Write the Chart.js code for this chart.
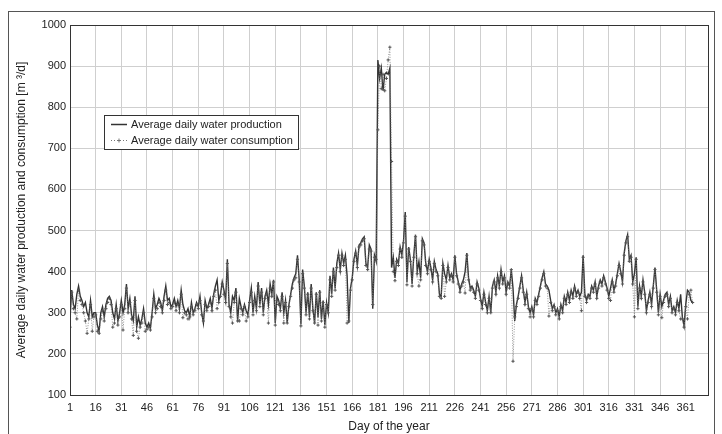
<!DOCTYPE html>
<html>
<head>
<meta charset="utf-8">
<script src="https://cdn.jsdelivr.net/npm/chart.js@4/dist/chart.umd.min.js"></script>
<style>
  body { margin: 0; background: #fff; overflow: hidden; }
  #frame { position: absolute; left: 8px; top: 11px; width: 705px; height: 440px; border: 1px solid #555; }
  #wrap { position: absolute; left: 0; top: 0; width: 722px; height: 434px; }
</style>
</head>
<body>
<div id="frame"></div>
<div id="wrap"><canvas id="grafico" width="722" height="434"></canvas></div>
<script>
// tick labels of the x axis (day of the year)
const xTicks = [1, 16, 31, 46, 61, 76, 91, 106, 121, 136, 151, 166, 181, 196, 211, 226, 241, 256, 271, 286, 301, 316, 331, 346, 361];
const yTicks = [100, 200, 300, 400, 500, 600, 700, 800, 900, 1000];

const seriesNames = ['Average daily water production', 'Average daily water consumption'];

// average daily water production, day 1..365, rows of 15 days
const production = [
  290, 355, 320, 310, 345, 365, 340, 330, 315, 325, 300, 290, 330, 290, 300,
  300, 270, 255, 300, 315, 290, 320, 335, 340, 330, 300, 285, 320, 280, 300,
  330, 300, 320, 370, 310, 335, 295, 280, 340, 265, 290, 270, 285, 310, 275,
  265, 275, 262, 300, 345, 310, 320, 335, 325, 305, 340, 365, 330, 335, 315,
  320, 335, 315, 330, 310, 355, 320, 305, 300, 310, 290, 325, 300, 310, 325,
  315, 340, 300, 275, 330, 310, 320, 335, 310, 345, 365, 380, 330, 345, 375,
  355, 330, 430, 320, 300, 340, 330, 360, 280, 335, 315, 300, 320, 305, 295,
  330, 360, 300, 340, 310, 375, 320, 360, 300, 340, 355, 320, 370, 345, 380,
  275, 340, 330, 310, 350, 300, 330, 275, 320, 345, 370, 385, 395, 440, 380,
  272, 405, 365, 300, 350, 290, 370, 310, 275, 350, 290, 355, 285, 330, 270,
  325, 300, 390, 345, 410, 360, 420, 445, 405, 445, 420, 440, 390, 275, 360,
  385, 430, 450, 415, 465, 470, 480, 485, 420, 410, 465, 455, 310, 440, 425,
  915, 870, 895, 840, 880, 885, 880, 895, 410, 435, 385, 430, 420, 460, 440,
  475, 545, 375, 460, 430, 370, 440, 490, 400, 425, 385, 480, 470, 420, 400,
  430, 410, 380, 425, 405, 395, 345, 340, 420, 395, 380, 415, 385, 395, 380,
  440, 395, 375, 355, 370, 380, 400, 445, 385, 360, 365, 355, 340, 375, 360,
  335, 315, 350, 325, 305, 340, 300, 365, 380, 350, 390, 365, 405, 375, 390,
  350, 375, 365, 405, 360, 280, 320, 340, 365, 390, 355, 325, 350, 315, 300,
  315, 295, 335, 325, 345, 365, 385, 400, 370, 365, 355, 330, 310, 320, 300,
  310, 290, 320, 305, 340, 325, 350, 330, 355, 340, 365, 345, 355, 340, 350,
  440, 345, 330, 345, 340, 365, 355, 375, 340, 365, 380, 370, 390, 375, 360,
  340, 360, 380, 355, 370, 395, 420, 400, 375, 445, 475, 490, 430, 440, 375,
  395, 435, 315, 365, 340, 380, 350, 305, 330, 350, 320, 365, 410, 355, 300,
  345, 315, 330, 345, 350, 320, 340, 305, 315, 300, 330, 310, 345, 290, 268,
  320, 355, 350, 330, 325
];

// average daily water consumption, day 1..365
const consumption = [
  265, 350, 310, 300, 285, 355, 330, 320, 300, 280, 250, 285, 320, 255, 290,
  295, 255, 250, 285, 305, 280, 310, 325, 335, 320, 265, 275, 310, 270, 290,
  320, 258, 310, 360, 300, 325, 285, 245, 330, 255, 238, 265, 275, 300, 255,
  260, 265, 258, 290, 335, 300, 310, 325, 315, 300, 330, 355, 320, 325, 310,
  315, 325, 305, 320, 300, 345, 288, 300, 295, 285, 290, 315, 295, 305, 320,
  310, 330, 295, 280, 320, 305, 315, 325, 305, 340, 355, 310, 325, 340, 370,
  345, 325, 420, 315, 290, 275, 325, 350, 280, 280, 310, 295, 315, 280, 290,
  325, 350, 295, 330, 305, 365, 315, 350, 295, 335, 345, 275, 360, 340, 375,
  270, 330, 320, 305, 340, 275, 325, 275, 315, 340, 360, 380, 385, 430, 375,
  268, 395, 360, 295, 345, 285, 360, 305, 275, 345, 270, 350, 280, 325, 265,
  320, 300, 380, 340, 400, 355, 410, 440, 400, 440, 415, 430, 275, 280, 355,
  380, 425, 445, 410, 460, 465, 475, 480, 415, 405, 455, 450, 320, 435, 430,
  745, 900, 845, 880, 840, 870, 915, 946, 668, 400, 378, 425, 415, 455, 435,
  470, 535, 368, 455, 425, 365, 435, 485, 395, 365, 380, 475, 465, 415, 395,
  425, 405, 375, 420, 400, 390, 340, 335, 415, 340, 375, 410, 380, 390, 375,
  435, 390, 370, 350, 365, 375, 348, 440, 380, 355, 360, 350, 335, 370, 355,
  330, 310, 345, 320, 300, 335, 300, 360, 375, 345, 385, 360, 400, 370, 385,
  345, 370, 360, 405, 182, 290, 315, 335, 360, 385, 350, 320, 345, 310, 290,
  310, 290, 330, 320, 340, 360, 380, 395, 365, 360, 292, 325, 305, 315, 295,
  305, 285, 315, 300, 335, 320, 345, 325, 350, 335, 360, 340, 350, 335, 305,
  435, 340, 325, 340, 335, 360, 350, 370, 335, 360, 375, 365, 385, 370, 355,
  335, 330, 375, 350, 365, 390, 415, 395, 370, 440, 470, 485, 425, 435, 370,
  290, 430, 310, 360, 335, 375, 345, 300, 325, 345, 315, 360, 405, 350, 295,
  340, 288, 325, 340, 345, 315, 335, 300, 310, 295, 325, 305, 285, 285, 265,
  315, 285, 345, 355, 325
];

const fuente = "'Liberation Sans', Arial, sans-serif";

function aPuntos(valores) {
  return valores.map((v, i) => ({ x: i + 1, y: v }));
}

// legend box inside the plot + frame around the plot area
const leyendaPlugin = {
  id: 'leyenda',
  afterDraw(chart) {
    const ctx = chart.ctx;
    const a = chart.chartArea;
    ctx.save();
    ctx.strokeStyle = '#333';
    ctx.lineWidth = 1;
    ctx.strokeRect(Math.round(a.left) + 0.5, Math.round(a.top) + 0.5, Math.round(a.right - a.left), Math.round(a.bottom - a.top));

    const bx = 104.5, by = 115.5, bw = 194, bh = 34;
    ctx.fillStyle = '#fff';
    ctx.fillRect(bx, by, bw, bh);
    ctx.strokeStyle = '#333';
    ctx.strokeRect(bx, by, bw, bh);

    const ds = chart.data.datasets;
    ctx.font = '11px ' + fuente;
    ctx.textBaseline = 'middle';
    ctx.fillStyle = '#222';
    // production: solid line
    ctx.strokeStyle = ds[0].borderColor;
    ctx.lineWidth = 1.5;
    ctx.beginPath();
    ctx.moveTo(111, 124.5);
    ctx.lineTo(127, 124.5);
    ctx.stroke();
    ctx.fillText(ds[0].label, 131, 124.5);
    // consumption: dotted line with cross
    ctx.strokeStyle = ds[1].borderColor;
    ctx.lineWidth = 1;
    ctx.setLineDash([1, 2]);
    ctx.beginPath();
    ctx.moveTo(111, 140.5);
    ctx.lineTo(127, 140.5);
    ctx.stroke();
    ctx.setLineDash([]);
    ctx.beginPath();
    ctx.moveTo(117, 140.5); ctx.lineTo(121, 140.5);
    ctx.moveTo(119, 138.5); ctx.lineTo(119, 142.5);
    ctx.stroke();
    ctx.fillText(ds[1].label, 131, 140.5);
    ctx.restore();
  }
};

const ctx = document.getElementById('grafico').getContext('2d');
const chart = new Chart(ctx, {
  type: 'line',
  data: {
    datasets: [
      {
        label: seriesNames[0],
        data: aPuntos(production),
        borderColor: '#333',
        borderWidth: 1.4,
        pointRadius: 0,
        tension: 0,
        order: 1
      },
      {
        label: seriesNames[1],
        data: aPuntos(consumption),
        borderColor: '#777',
        borderWidth: 0.8,
        borderDash: [1, 1.5],
        pointStyle: 'cross',
        pointRadius: 1.6,
        pointBorderWidth: 1,
        pointBorderColor: '#555',
        tension: 0,
        order: 0
      }
    ]
  },
  options: {
    responsive: false,
    animation: false,
    devicePixelRatio: 1,
    layout: { padding: { top: 25, right: 14, left: 0, bottom: 0 } },
    plugins: {
      legend: { display: false },
      tooltip: { enabled: false }
    },
    scales: {
      x: {
        type: 'linear',
        min: 1,
        max: 374,
        afterBuildTicks: axis => { axis.ticks = xTicks.map(v => ({ value: v })); },
        afterFit: scale => { scale.height = 39; },
        grid: { color: '#cfcfcf', lineWidth: 1, drawTicks: false },
        border: { display: false },
        ticks: { color: '#222', font: { family: fuente, size: 11 }, padding: 6, maxRotation: 0, autoSkip: false, callback: v => String(v) },
        title: { display: true, text: 'Day of the year', color: '#222', font: { family: fuente, size: 12 }, padding: { top: 0, bottom: 0 } }
      },
      y: {
        min: 100,
        max: 1000,
        afterBuildTicks: axis => { axis.ticks = yTicks.map(v => ({ value: v })); },
        afterFit: scale => { scale.width = 70; },
        grid: { color: '#cfcfcf', lineWidth: 1, drawTicks: false },
        border: { display: false },
        ticks: { color: '#222', font: { family: fuente, size: 11 }, padding: 4, callback: v => String(v) },
        title: { display: true, text: 'Average daily water production and consumption [m \u00b3/d]', color: '#222', font: { family: fuente, size: 12 }, padding: { top: 14, bottom: 0 } }
      }
    }
  },
  plugins: [leyendaPlugin]
});
</script>
</body>
</html>
